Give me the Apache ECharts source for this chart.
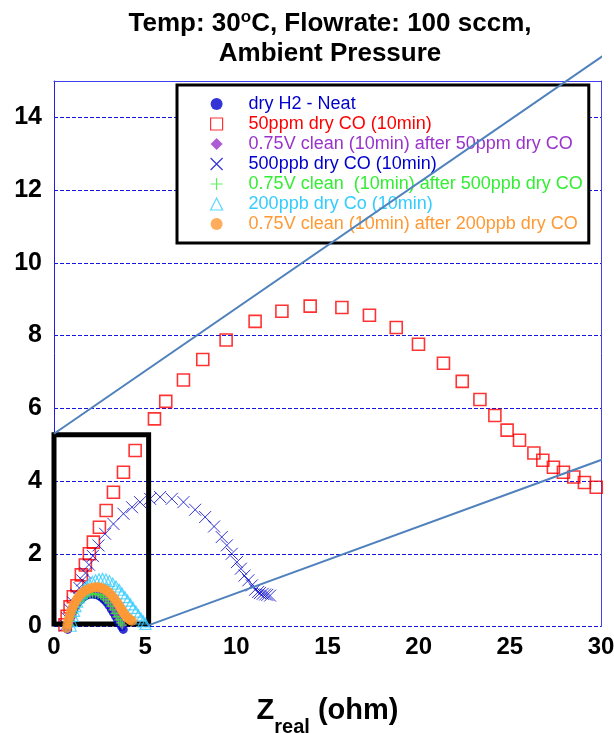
<!DOCTYPE html>
<html><head><meta charset="utf-8">
<script src="https://cdn.jsdelivr.net/npm/echarts@6/dist/echarts.min.js"></script>
<style>html,body{margin:0;padding:0;background:#fff}#c{width:614px;height:733px}</style>
</head><body><div id="c"></div>
<script>
// ---- names / labels ----
const seriesNames = [
  'dry H2 - Neat',
  '50ppm dry CO (10min)',
  '0.75V clean (10min) after 50ppm dry CO',
  '500ppb dry CO (10min)',
  '0.75V clean  (10min) after 500ppb dry CO',
  '200ppb dry Co (10min)',
  '0.75V clean (10min) after 200ppb dry CO'
];
const xTickValues = [0, 5, 10, 15, 20, 25, 30];
const yTickValues = [0, 2, 4, 6, 8, 10, 12, 14];
const yMax = 15;

// ---- data (Z_real, -Z_imag) ----
const h2X = [0.75,0.80,0.86,0.93,1.01,1.10,1.20,1.31,1.43,1.56,1.70,1.85,2.00,2.15,2.30,2.45,2.60,2.74,2.88,3.01,3.14,3.26,3.38,3.49,3.60,3.70,3.80];
const h2Y = [-0.08,0.04,0.16,0.28,0.39,0.49,0.58,0.66,0.73,0.79,0.84,0.87,0.89,0.89,0.88,0.85,0.80,0.74,0.67,0.58,0.48,0.38,0.28,0.18,0.09,0.00,-0.08];

const co50X = [0.60,0.72,0.88,1.06,1.26,1.50,1.72,1.94,2.16,2.49,2.86,3.26,3.81,4.45,5.51,6.13,7.10,8.16,9.44,11.03,12.50,14.05,15.79,17.30,18.77,19.99,21.36,22.39,23.36,24.18,24.85,25.53,26.32,26.81,27.39,27.94,28.51,29.09,29.74];
const co50Y = [0.05,0.28,0.54,0.82,1.12,1.42,1.69,2.00,2.32,2.73,3.19,3.69,4.24,4.84,5.71,6.19,6.78,7.34,7.88,8.39,8.67,8.81,8.77,8.56,8.22,7.76,7.24,6.74,6.24,5.80,5.40,5.12,4.77,4.57,4.38,4.24,4.11,3.96,3.83];

const clean50X = [0.85,0.89,0.94,1.00,1.07,1.15,1.24,1.34,1.45,1.57,1.70,1.84,1.98,2.13,2.28,2.43,2.58,2.72,2.86,2.99,3.12,3.24,3.35,3.46,3.56,3.66,3.75];
const clean50Y = [0.02,0.12,0.22,0.32,0.42,0.51,0.59,0.67,0.74,0.80,0.85,0.89,0.91,0.92,0.92,0.90,0.87,0.82,0.75,0.67,0.58,0.48,0.38,0.28,0.19,0.11,0.04];

const co500X = [0.62,0.75,0.90,1.05,1.22,1.39,1.55,1.73,1.92,2.13,2.44,2.80,3.26,3.81,4.28,4.72,5.27,5.82,6.46,7.10,7.74,8.29,8.78,9.20,9.48,9.75,10.03,10.25,10.45,10.66,10.85,11.03,11.20,11.30,11.45,11.58,11.70,11.85];
const co500Y = [0.03,0.22,0.45,0.66,0.87,1.06,1.27,1.47,1.70,1.94,2.23,2.55,2.82,3.10,3.28,3.42,3.51,3.56,3.51,3.42,3.21,3.01,2.75,2.46,2.23,2.00,1.77,1.59,1.40,1.27,1.13,1.01,0.95,0.92,0.90,0.88,0.87,0.85];

const clean500X = [0.88,0.93,0.99,1.06,1.14,1.23,1.33,1.44,1.56,1.69,1.83,1.97,2.12,2.27,2.42,2.57,2.71,2.85,2.98,3.11,3.23,3.34,3.45,3.55,3.65,3.74];
const clean500Y = [0.03,0.14,0.25,0.36,0.46,0.55,0.63,0.70,0.77,0.82,0.86,0.89,0.90,0.90,0.88,0.85,0.80,0.73,0.65,0.56,0.46,0.36,0.27,0.18,0.10,0.04];

const co200X = [0.92,0.97,1.03,1.10,1.18,1.27,1.37,1.49,1.62,1.77,1.93,2.10,2.28,2.47,2.66,2.85,3.04,3.22,3.40,3.57,3.73,3.89,4.04,4.19,4.34,4.49,4.63,4.77,4.90,5.02];
const co200Y = [0.02,0.15,0.29,0.43,0.56,0.68,0.80,0.91,1.01,1.10,1.17,1.23,1.27,1.30,1.31,1.29,1.25,1.18,1.10,1.01,0.91,0.81,0.71,0.61,0.51,0.41,0.31,0.22,0.14,0.07];

const clean200X = [0.70,0.74,0.79,0.85,0.92,1.00,1.09,1.19,1.30,1.42,1.55,1.69,1.84,1.99,2.15,2.30,2.45,2.60,2.75,2.90,3.05,3.19,3.32,3.45,3.57,3.68,3.78,3.88,3.98,4.08,4.18,4.28];
const clean200Y = [-0.05,0.06,0.17,0.28,0.39,0.50,0.60,0.69,0.78,0.86,0.93,0.98,1.02,1.05,1.07,1.08,1.08,1.06,1.03,0.98,0.92,0.84,0.76,0.67,0.58,0.49,0.41,0.33,0.27,0.22,0.18,0.16];

// ---- annotation (zoom box and callout lines, in data units) ----
const boxX = [0, 5.19, 5.19, 0, 0];
const boxY = [0.07, 0.07, 5.27, 5.27, 0.07];
const callout1X = [0, 31];
const callout1Y = [5.3, 16.0];
const callout2X = [5.17, 31];
const callout2Y = [0.03, 4.76];

const pts = (xs, ys) => xs.map((x, i) => [x, ys[i]]);

const FONT = "'Liberation Sans', Arial, sans-serif";
const colors = ['#0000CC', '#FF0000', '#9933CC', '#0000CC', '#33EE33', '#33CCFF', '#FF9933'];
const TRANSP = 'rgba(0,0,0,0)';
const crossPath = 'path://M0,0L10,10M10,0L0,10';
const plusPath = 'path://M5,0L5,10M0,5L10,5';

const chart = echarts.init(document.getElementById('c'), null, {renderer: 'canvas'});

function scatter(name, data, symbol, size, itemStyle, z) {
  return {
    type: 'scatter', name, data, symbol, symbolSize: size, itemStyle,
    clip: false, z: z, silent: true, emphasis: {disabled: true}, animation: false
  };
}

const option = {
  animation: false,
  textStyle: {fontFamily: FONT},
  title: {
    left: 330, top: 9, padding: 0, textAlign: 'center',
    text: '{a|Temp: 30}{s|o}{a|C, Flowrate: 100 sccm,}\n{a|Ambient Pressure}',
    textStyle: {
      rich: {
        a: {fontSize: 26, fontWeight: 'bold', color: '#000', lineHeight: 30, fontFamily: FONT},
        s: {fontSize: 17, fontWeight: 'bold', color: '#000', lineHeight: 10, verticalAlign: 'top', fontFamily: FONT}
      }
    }
  },
  grid: {left: 54, right: 13, top: 81, bottom: 106.5, show: false, outerBoundsMode: 'none'},
  legend: {
    orient: 'vertical', left: 177, top: 85,
    padding: [10, 6, 10, 33],
    itemWidth: 12, itemHeight: 12, itemGap: 2,
    backgroundColor: '#fff', borderColor: '#000', borderWidth: 3, borderRadius: 0,
    selectedMode: false, z: 4,
    itemStyle: {borderWidth: 1.2},
    textStyle: {fontSize: 18, fontFamily: FONT, lineHeight: 18, padding: [0, 0, 0, 21]},
    data: seriesNames.map((n, i) => ({name: n, textStyle: {color: colors[i]}}))
  },
  xAxis: [{
    type: 'value', min: xTickValues[0], max: xTickValues[xTickValues.length - 1],
    interval: xTickValues[1] - xTickValues[0],
    axisLine: {show: false}, axisTick: {show: false}, splitLine: {show: false},
    axisLabel: {fontSize: 24, fontWeight: 'bold', color: '#000', margin: 9, fontFamily: FONT},
    name: '{z|Z}{sub|real}{n| (ohm)}',
    nameLocation: 'middle', nameGap: 69, nameMoveOverlap: false,
    nameTextStyle: {
      rich: {
        z: {fontSize: 29, fontWeight: 'bold', color: '#000', lineHeight: 30, fontFamily: FONT},
        sub: {fontSize: 20, fontWeight: 'bold', color: '#000', lineHeight: 20, padding: [34, 0, 0, 0], fontFamily: FONT},
        n: {fontSize: 29, fontWeight: 'bold', color: '#000', lineHeight: 30, fontFamily: FONT}
      }
    }
  }, {
    type: 'value', position: 'top', min: 0, max: 30,
    axisLine: {show: true, onZero: false, lineStyle: {color: '#4040EE', width: 1}},
    axisTick: {show: false}, axisLabel: {show: false}, splitLine: {show: false}
  }],
  yAxis: [{
    type: 'value', min: yTickValues[0], max: yMax, interval: yTickValues[1] - yTickValues[0],
    axisLine: {show: true, onZero: false, lineStyle: {color: '#2020DD', width: 1}},
    axisTick: {show: false},
    splitLine: {show: true, lineStyle: {color: '#1515DD', width: 1, type: [4, 2]}},
    axisLabel: {fontSize: 25, fontWeight: 'bold', color: '#000', margin: 12, showMaxLabel: false, fontFamily: FONT}
  }, {
    type: 'value', position: 'right', min: 0, max: yMax,
    axisLine: {show: true, onZero: false, lineStyle: {color: '#4040EE', width: 1}},
    axisTick: {show: false}, axisLabel: {show: false}, splitLine: {show: false}
  }],
  series: [
    scatter(seriesNames[1], pts(co50X, co50Y), 'rect', 12,
      {color: TRANSP, borderColor: colors[1], borderWidth: 1.6}, 2),
    scatter(seriesNames[3], pts(co500X, co500Y), crossPath, 12,
      {color: TRANSP, borderColor: colors[3], borderWidth: 1}, 2),
    {
      type: 'line', name: '_box', data: pts(boxX, boxY), symbol: 'none', clip: false, z: 3,
      silent: true, animation: false,
      lineStyle: {color: '#000', width: 5, cap: 'square', join: 'miter'}
    },
    scatter(seriesNames[0], pts(h2X, h2Y), 'circle', 9, {color: colors[0]}, 4),
    scatter(seriesNames[2], pts(clean50X, clean50Y), 'diamond', 9, {color: colors[2]}, 4),
    scatter(seriesNames[4], pts(clean500X, clean500Y), plusPath, 9,
      {color: TRANSP, borderColor: colors[4], borderWidth: 1.2}, 4),
    scatter(seriesNames[5], pts(co200X, co200Y), 'triangle', 11,
      {color: TRANSP, borderColor: colors[5], borderWidth: 1.2}, 4),
    scatter(seriesNames[6], pts(clean200X, clean200Y), 'circle', 10, {color: colors[6]}, 4),
    {
      type: 'line', name: '_call1', data: pts(callout1X, callout1Y), symbol: 'none', clip: false, z: 6,
      silent: true, animation: false, lineStyle: {color: '#4F81BD', width: 2}
    },
    {
      type: 'line', name: '_call2', data: pts(callout2X, callout2Y), symbol: 'none', clip: false, z: 6,
      silent: true, animation: false, lineStyle: {color: '#4F81BD', width: 2}
    }
  ]
};
chart.setOption(option);
</script>
</body></html>
